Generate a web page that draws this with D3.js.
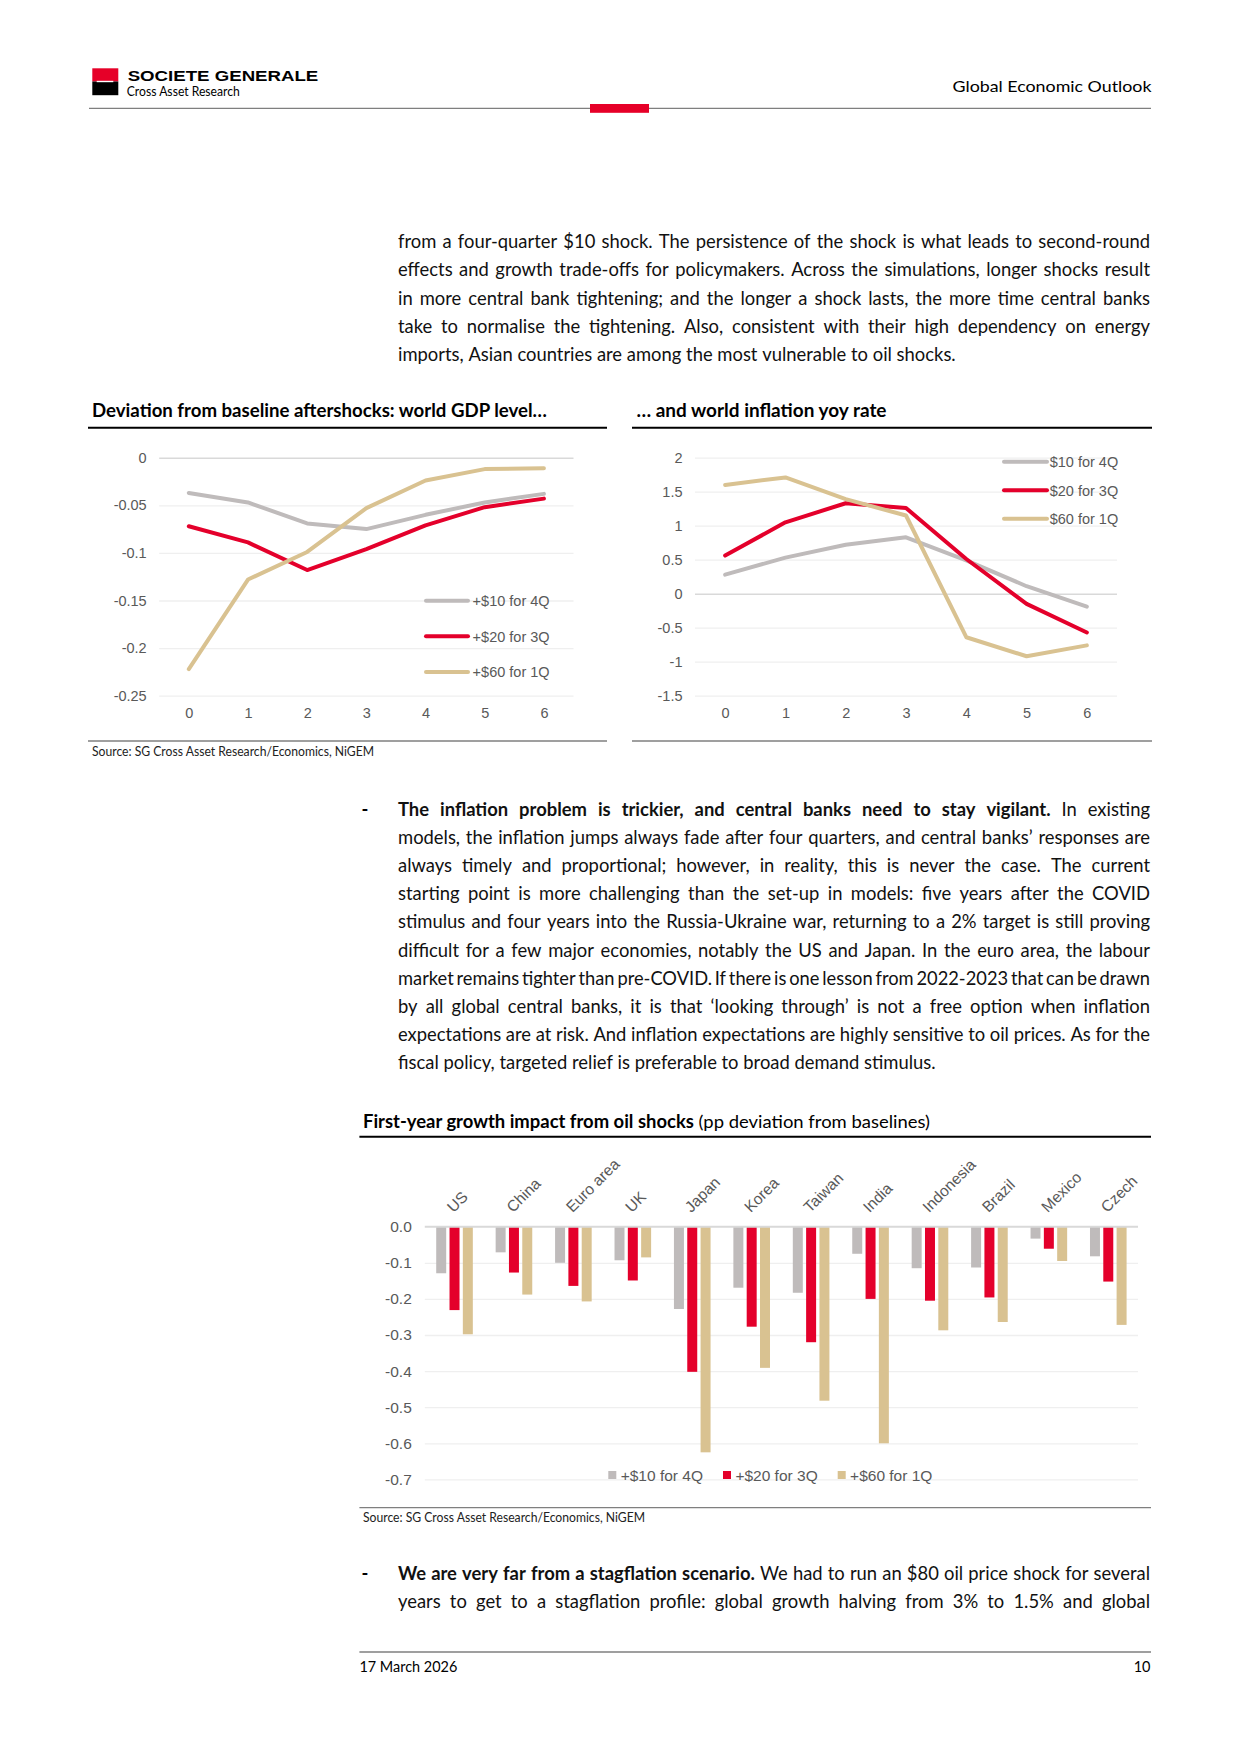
<!DOCTYPE html>
<html>
<head>
<meta charset="utf-8">
<script src="https://cdn.jsdelivr.net/npm/d3@7"></script>
<style>
  body { margin: 0; background: #fff; }
  svg { display: block; }
</style>
</head>
<body>
<div id="page"></div>
<script>
// ---- chart data ----
const quarters = [0, 1, 2, 3, 4, 5, 6];

const gdpNames = ['+$10 for 4Q', '+$20 for 3Q', '+$60 for 1Q'];
const gdp10 = [-0.037, -0.047, -0.069, -0.075, -0.060, -0.047, -0.038];
const gdp20 = [-0.072, -0.089, -0.118, -0.096, -0.071, -0.052, -0.043];
const gdp60 = [-0.222, -0.128, -0.099, -0.053, -0.024, -0.012, -0.011];
const gdpTicks = [0, -0.05, -0.1, -0.15, -0.2, -0.25];

const inflNames = ['$10 for 4Q', '$20 for 3Q', '$60 for 1Q'];
const infl10 = [0.28, 0.53, 0.72, 0.83, 0.49, 0.11, -0.19];
const infl20 = [0.56, 1.05, 1.33, 1.26, 0.51, -0.15, -0.57];
const infl60 = [1.60, 1.71, 1.39, 1.15, -0.64, -0.92, -0.76];
const inflTicks = [2, 1.5, 1, 0.5, 0, -0.5, -1, -1.5];

const countries = ['US', 'China', 'Euro area', 'UK', 'Japan', 'Korea', 'Taiwan', 'India', 'Indonesia', 'Brazil', 'Mexico', 'Czech'];
const shockNames = ['+$10 for 4Q', '+$20 for 3Q', '+$60 for 1Q'];
const shock10 = [-0.129, -0.071, -0.100, -0.093, -0.228, -0.169, -0.183, -0.075, -0.115, -0.113, -0.033, -0.082];
const shock20 = [-0.231, -0.127, -0.164, -0.149, -0.402, -0.277, -0.320, -0.200, -0.205, -0.196, -0.061, -0.152];
const shock60 = [-0.298, -0.188, -0.207, -0.085, -0.625, -0.391, -0.482, -0.600, -0.287, -0.264, -0.095, -0.272];
const shockTicks = [0, -0.1, -0.2, -0.3, -0.4, -0.5, -0.6, -0.7];

// ---- body text ----
const para1 = [
  'from a four-quarter $10 shock. The persistence of the shock is what leads to second-round',
  'effects and growth trade-offs for policymakers. Across the simulations, longer shocks result',
  'in more central bank tightening; and the longer a shock lasts, the more time central banks',
  'take to normalise the tightening. Also, consistent with their high dependency on energy',
  'imports, Asian countries are among the most vulnerable to oil shocks.'
];
const para2 = [
  [['The inflation problem is trickier, and central banks need to stay vigilant.', true], ['In existing', false]],
  'models, the inflation jumps always fade after four quarters, and central banks\u2019 responses are',
  'always timely and proportional; however, in reality, this is never the case. The current',
  'starting point is more challenging than the set-up in models: five years after the COVID',
  'stimulus and four years into the Russia-Ukraine war, returning to a 2% target is still proving',
  'difficult for a few major economies, notably the US and Japan. In the euro area, the labour',
  'market remains tighter than pre-COVID. If there is one lesson from 2022-2023 that can be drawn',
  'by all global central banks, it is that \u2018looking through\u2019 is not a free option when inflation',
  'expectations are at risk. And inflation expectations are highly sensitive to oil prices. As for the',
  'fiscal policy, targeted relief is preferable to broad demand stimulus.'
];
const para3 = [
  [['We are very far from a stagflation scenario.', true], ['We had to run an $80 oil price shock for several', false]],
  'years to get to a stagflation profile: global growth halving from 3% to 1.5% and global'
];

const colors = { grey: '#bfbbbb', red: '#e4002b', tan: '#d9c291', axis: '#595959', grid: '#efefef', zero: '#d9d9d9', rule: '#7f7f7f' };
const bodyFont = 'Lato, "Noto Sans", sans-serif';
const chartFont = '"Liberation Sans", Arial, sans-serif';
const bodySize = 18.4;

const svg = d3.select('#page')
  .append('svg')
  .attr('width', 1240)
  .attr('height', 1754);

// ---- header ----
function drawHeader() {
  svg.append('rect').attr('x', 92.3).attr('y', 68.3).attr('width', 26).attr('height', 13.2).attr('fill', '#e60028');
  svg.append('rect').attr('x', 92.3).attr('y', 81.5).attr('width', 26).attr('height', 13.7).attr('fill', '#000');
  svg.append('rect').attr('x', 96.7).attr('y', 80.8).attr('width', 16.6).attr('height', 1.4).attr('fill', '#fff');

  svg.append('text')
    .attr('x', 127.7).attr('y', 80.7)
    .attr('font-family', chartFont).attr('font-weight', 'bold').attr('font-size', 14)
    .attr('textLength', 190.6).attr('lengthAdjust', 'spacingAndGlyphs')
    .text('SOCIETE GENERALE');

  svg.append('text')
    .attr('x', 126.8).attr('y', 96)
    .attr('font-family', bodyFont).attr('font-size', 13)
    .attr('textLength', 113).attr('lengthAdjust', 'spacingAndGlyphs')
    .text('Cross Asset Research');

  svg.append('text')
    .attr('x', 1151.5).attr('y', 91.7)
    .attr('text-anchor', 'end')
    .attr('font-family', bodyFont).attr('font-size', 16)
    .attr('textLength', 199).attr('lengthAdjust', 'spacingAndGlyphs')
    .text('Global Economic Outlook');

  svg.append('line')
    .attr('x1', 89).attr('x2', 1151).attr('y1', 108.3).attr('y2', 108.3)
    .attr('stroke', colors.rule).attr('stroke-width', 1.3);

  svg.append('rect').attr('x', 590).attr('y', 104).attr('width', 59).attr('height', 8.8).attr('fill', '#e60028');
}

// ---- text lines, justified word by word ----
function toWords(line) {
  let runs = typeof line === 'string' ? [[line, false]] : line,
    words = [];
  runs.forEach(function (r) {
    r[0].split(' ').forEach(function (w) { words.push({ w: w, b: r[1] }); });
  });
  return words;
}

function spaceWidth(size) {
  let t = svg.append('text').attr('font-family', bodyFont).attr('font-size', size).attr('x', -500).attr('y', -500),
    a = t.text('a a').node().getComputedTextLength(),
    b = t.text('aa').node().getComputedTextLength();
  t.remove();
  return a - b;
}

// each word is its own text element, so no shaping runs across words
function drawParagraph(lines, x, y0, lineH, width, size, justifyLast) {
  let sp = spaceWidth(size);

  lines.forEach(function (line, li) {
    let words = toWords(line),
      last = li === lines.length - 1 && !justifyLast,
      g = svg.append('g'),
      els = words.map(function (d) {
        return g.append('text')
          .attr('y', y0 + li * lineH)
          .attr('font-family', bodyFont)
          .attr('font-size', size)
          .attr('font-weight', d.b ? 'bold' : 'normal')
          .attr('fill', '#111')
          .text(d.w);
      }),
      widths = els.map(function (s) { return s.node().getComputedTextLength(); }),
      total = d3.sum(widths),
      n = words.length - 1,
      gap = (!last && n > 0) ? (width - total) / n : sp,
      k = 1,
      cx = x;

    // too tight: keep a minimum gap and squeeze the line a little
    if (gap < 0.6 * sp) {
      gap = 0.6 * sp;
      k = width / (total + n * gap);
      g.attr('transform', 'translate(' + x + ',0) scale(' + k + ',1) translate(' + (-x) + ',0)');
    }

    els.forEach(function (s, i) {
      s.attr('x', cx);
      cx += widths[i] + gap;
    });
  });
}

function drawDash(x, y, size) {
  svg.append('text')
    .attr('x', x).attr('y', y)
    .attr('font-family', bodyFont).attr('font-size', size).attr('font-weight', 'bold')
    .text('-');
}

// ---- chart frame: title, underline, source ----
function drawFrame(cfg) {
  let title = svg.append('text')
    .attr('x', cfg.titleX).attr('y', cfg.titleY)
    .attr('font-family', bodyFont).attr('font-size', 18).attr('fill', '#000');

  cfg.title.forEach(function (r) {
    title.append('tspan').attr('font-weight', r[1] ? 'bold' : 'normal').text(r[0]);
  });
  if (cfg.titleW) {
    title.attr('textLength', cfg.titleW).attr('lengthAdjust', 'spacingAndGlyphs');
  }

  svg.append('line')
    .attr('x1', cfg.x1).attr('x2', cfg.x2).attr('y1', cfg.ruleY).attr('y2', cfg.ruleY)
    .attr('stroke', '#000').attr('stroke-width', 2);

  svg.append('line')
    .attr('x1', cfg.x1).attr('x2', cfg.x2).attr('y1', cfg.sourceY).attr('y2', cfg.sourceY)
    .attr('stroke', colors.rule).attr('stroke-width', 1.3);

  if (cfg.source) {
    svg.append('text')
      .attr('x', cfg.titleX).attr('y', cfg.sourceY + 14.5)
      .attr('font-family', bodyFont).attr('font-size', 12.5).attr('fill', '#222')
      .attr('textLength', 282).attr('lengthAdjust', 'spacingAndGlyphs')
      .text('Source: SG Cross Asset Research/Economics, NiGEM');
  }
}

function styleAxisText(sel, size) {
  sel.selectAll('text')
    .attr('fill', colors.axis)
    .attr('font-family', chartFont)
    .attr('font-size', size);
}

// ---- line charts ----
function drawLineChart(cfg) {
  let
    x = d3.scalePoint().domain(quarters).range([cfg.left, cfg.right]).padding(0.5),
    y = d3.scaleLinear().domain(cfg.domain).range([cfg.bottom, cfg.top]),
    w = cfg.right - cfg.left,
    g = svg.append('g'),
    line;

  // gridlines
  g.append('g')
    .attr('transform', 'translate(' + cfg.left + ',0)')
    .call(d3.axisLeft(y).tickValues(cfg.ticks).tickSize(-w).tickFormat(''))
    .call(function (a) { a.select('.domain').remove(); })
    .call(function (a) {
      a.selectAll('line')
        .attr('stroke', function (d) { return d === 0 ? colors.zero : colors.grid; })
        .attr('stroke-width', function (d) { return d === 0 ? 1.6 : 1.3; });
    });

  // y labels
  g.append('g')
    .attr('transform', 'translate(' + cfg.left + ',0)')
    .call(d3.axisLeft(y).tickValues(cfg.ticks).tickSize(0).tickPadding(12.5).tickFormat(String))
    .call(function (a) { a.select('.domain').remove(); })
    .call(function (a) { styleAxisText(a, 14.5); });

  // x labels
  g.append('g')
    .attr('transform', 'translate(0,' + cfg.bottom + ')')
    .call(d3.axisBottom(x).tickSize(0).tickPadding(12.3))
    .call(function (a) { a.select('.domain').remove(); })
    .call(function (a) { styleAxisText(a, 14.5); });

  line = d3.line()
    .x(function (d, i) { return x(quarters[i]); })
    .y(function (d) { return y(d); });

  cfg.series.forEach(function (s) {
    g.append('path')
      .datum(s.values)
      .attr('fill', 'none')
      .attr('stroke', s.color)
      .attr('stroke-width', 4)
      .attr('stroke-linejoin', 'round')
      .attr('stroke-linecap', 'round')
      .attr('d', line);
  });

  // legend
  cfg.series.forEach(function (s, i) {
    let ly = cfg.legend.ys[i];
    g.append('line')
      .attr('x1', cfg.legend.x1).attr('x2', cfg.legend.x2)
      .attr('y1', ly).attr('y2', ly)
      .attr('stroke', s.color).attr('stroke-width', 4).attr('stroke-linecap', 'round');
    g.append('text')
      .attr('x', cfg.legend.tx).attr('y', ly).attr('dy', '0.36em')
      .attr('fill', colors.axis).attr('font-family', chartFont).attr('font-size', 14.5)
      .text(s.name);
  });
}

// ---- bar chart ----
function drawBarChart(cfg) {
  let
    series = [shock10, shock20, shock60],
    seriesColors = [colors.grey, colors.red, colors.tan],
    x0 = d3.scaleBand().domain(countries).range([cfg.left, cfg.right]).paddingInner(0.384).paddingOuter(0.192),
    x1 = d3.scaleBand().domain([0, 1, 2]).range([0, x0.bandwidth()]).paddingInner(0.25),
    y = d3.scaleLinear().domain([-0.7, 0]).range([cfg.bottom, cfg.top]),
    w = cfg.right - cfg.left,
    g = svg.append('g'),
    lx;

  // gridlines
  g.append('g')
    .attr('transform', 'translate(' + cfg.left + ',0)')
    .call(d3.axisLeft(y).tickValues(shockTicks.slice(1)).tickSize(-w).tickFormat(''))
    .call(function (a) { a.select('.domain').remove(); })
    .call(function (a) { a.selectAll('line').attr('stroke', colors.grid).attr('stroke-width', 1.3); });

  // y labels
  g.append('g')
    .attr('transform', 'translate(' + cfg.left + ',0)')
    .call(d3.axisLeft(y).tickValues(shockTicks).tickSize(0).tickPadding(13)
      .tickFormat(function (d) { return d.toFixed(1); }))
    .call(function (a) { a.select('.domain').remove(); })
    .call(function (a) { styleAxisText(a, 15.5); });

  // bars
  series.forEach(function (vals, si) {
    g.selectAll('rect.s' + si)
      .data(vals)
      .enter().append('rect')
      .attr('class', 's' + si)
      .attr('x', function (d, i) { return x0(countries[i]) + x1(si); })
      .attr('y', y(0))
      .attr('width', x1.bandwidth())
      .attr('height', function (d) { return y(d) - y(0); })
      .attr('fill', seriesColors[si]);
  });

  // zero line on top
  g.append('line')
    .attr('x1', cfg.left).attr('x2', cfg.right)
    .attr('y1', y(0)).attr('y2', y(0))
    .attr('stroke', colors.zero).attr('stroke-width', 2);

  // category labels
  g.selectAll('text.cat')
    .data(countries)
    .enter().append('text')
    .attr('class', 'cat')
    .attr('transform', function (d) {
      return 'translate(' + (x0(d) + x0.bandwidth() / 2 - 1) + ',' + (y(0) - 13.5) + ') rotate(-45)';
    })
    .attr('fill', colors.axis)
    .attr('font-family', chartFont)
    .attr('font-size', 15.5)
    .text(function (d) { return d; });

  // legend
  lx = cfg.legendX;
  shockNames.forEach(function (name, i) {
    let t;
    g.append('rect')
      .attr('x', lx).attr('y', cfg.legendY - 10)
      .attr('width', 8).attr('height', 8)
      .attr('fill', seriesColors[i]);
    t = g.append('text')
      .attr('x', lx + 12.4).attr('y', cfg.legendY)
      .attr('fill', colors.axis).attr('font-family', chartFont).attr('font-size', 15.5)
      .text(name);
    lx += 12.4 + t.node().getComputedTextLength() + 20;
  });
}

// ---- page ----
drawHeader();

drawParagraph(para1, 398, 248, 28.3, 752, bodySize, false);

drawFrame({
  title: [['Deviation from baseline aftershocks: world GDP level\u2026', true]],
  titleX: 92, titleY: 417, titleW: 455,
  x1: 88, x2: 607, ruleY: 427.7, sourceY: 741, source: true
});
drawFrame({
  title: [['\u2026 and world inflation yoy rate', true]],
  titleX: 636.5, titleY: 417, titleW: 250,
  x1: 632, x2: 1152, ruleY: 427.7, sourceY: 741, source: false
});

drawLineChart({
  left: 159.2, right: 573.5, top: 457.7, bottom: 695.7,
  domain: [-0.25, 0], ticks: gdpTicks,
  series: [
    { name: gdpNames[0], values: gdp10, color: colors.grey },
    { name: gdpNames[1], values: gdp20, color: colors.red },
    { name: gdpNames[2], values: gdp60, color: colors.tan }
  ],
  legend: { x1: 426, x2: 468, tx: 472.6, ys: [600.7, 636.3, 672] }
});

drawLineChart({
  left: 695, right: 1117, top: 457.7, bottom: 695.7,
  domain: [-1.5, 2], ticks: inflTicks,
  series: [
    { name: inflNames[0], values: infl10, color: colors.grey },
    { name: inflNames[1], values: infl20, color: colors.red },
    { name: inflNames[2], values: infl60, color: colors.tan }
  ],
  legend: { x1: 1004, x2: 1047, tx: 1049.7, ys: [461.7, 490.3, 518.7] }
});

drawDash(361.5, 816, bodySize);
drawParagraph(para2, 398, 816, 28.1, 752, bodySize, false);

drawFrame({
  title: [['First-year growth impact from oil shocks', true], [' (pp deviation from baselines)', false]],
  titleX: 363, titleY: 1128, titleW: 567,
  x1: 359.4, x2: 1151, ruleY: 1136.7, sourceY: 1507.7, source: true
});

drawBarChart({
  left: 424.8, right: 1138, top: 1226.7, bottom: 1479.4,
  legendX: 608.3, legendY: 1481
});

// paragraph carries on to the next page, so its last line is justified too
drawDash(361.5, 1580, bodySize);
drawParagraph(para3, 398, 1580, 28.1, 752, bodySize, true);

// ---- footer ----
svg.append('line')
  .attr('x1', 359.4).attr('x2', 1151).attr('y1', 1652).attr('y2', 1652)
  .attr('stroke', colors.rule).attr('stroke-width', 1.3);

svg.append('text')
  .attr('x', 359.4).attr('y', 1671.7)
  .attr('font-family', bodyFont).attr('font-size', 14.5)
  .attr('textLength', 98).attr('lengthAdjust', 'spacingAndGlyphs')
  .text('17 March 2026');

svg.append('text')
  .attr('x', 1150.5).attr('y', 1671.7)
  .attr('text-anchor', 'end')
  .attr('font-family', bodyFont).attr('font-size', 14.5)
  .text('10');
</script>
</body>
</html>
